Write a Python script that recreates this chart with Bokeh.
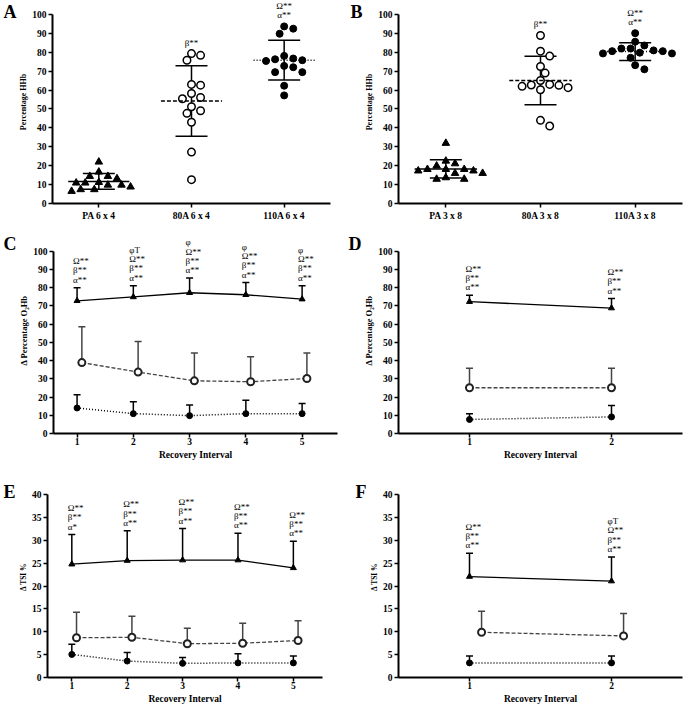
import numpy as np
from bokeh.plotting import figure
from bokeh.models import ColumnDataSource, Whisker, TeeHead, FixedTicker, LinearAxis, Range1d
from bokeh.layouts import column, row
from bokeh.embed import file_html
from bokeh.resources import INLINE
from bokeh.core.properties import value

# ---------------- data ----------------
# Panel A: percentage HHb, 6 x 4 protocol
a_groups = ["PA 6 x 4", "80A 6 x 4", "110A 6 x 4"]
a_pa = [22.0, 16.7, 14.4, 14.4, 13.2, 11.2, 10.9, 10.9, 9.8, 9.8, 8.8, 7.4, 7.4, 6.5]
a_80 = [79.3, 78.4, 75.8, 63.0, 62.6, 58.2, 56.1, 55.4, 51.2, 49.1, 47.7, 43.0, 27.2, 12.6]
a_110 = [93.7, 92.5, 89.8, 78.1, 76.7, 76.3, 75.8, 75.4, 72.8, 72.1, 69.5, 69.5, 62.3, 57.2]
a_marks = ["", "\u03b2**", "\u03a9**\n\u03b1**"]

# Panel B: percentage HHb, 3 x 8 protocol
b_groups = ["PA 3 x 8", "80A 3 x 8", "110A 3 x 8"]
b_pa = [31.9, 22.5, 21.1, 19.9, 18.1, 18.1, 18.1, 17.3, 17.3, 16.0, 16.0, 13.7, 12.9, 12.9]
b_80 = [88.9, 80.6, 78.0, 72.5, 69.0, 65.1, 63.0, 62.7, 62.5, 62.0, 61.3, 60.2, 44.0, 41.0]
b_110 = [90.1, 85.6, 83.6, 82.0, 82.0, 81.0, 80.6, 80.6, 79.8, 79.4, 79.4, 77.1, 73.2, 71.0]
b_marks = ["", "\u03b2**", "\u03a9**\n\u03b1**"]

# Panel C: delta percentage O2Hb, 6 x 4 (recovery intervals 1-5)
c_int = [1, 2, 3, 4, 5]
c_110 = [72.8, 74.9, 77.2, 76.1, 73.7]
c_110_sd = [7.2, 6.2, 8.1, 6.7, 7.4]
c_80 = [38.9, 33.7, 28.9, 28.4, 30.2]
c_80_sd = [19.7, 16.7, 15.3, 13.7, 14.0]
c_pa = [14.0, 10.9, 9.8, 10.9, 10.9]
c_pa_sd = [7.2, 6.5, 5.8, 7.3, 5.6]
c_marks = ["\u03a9**\n\u03b2**\n\u03b1**", "\u03c6T\n\u03a9**\n\u03b2**\n\u03b1**",
           "\u03c6\n\u03a9**\n\u03b2**\n\u03b1**", "\u03c6\n\u03a9**\n\u03b2**\n\u03b1**",
           "\u03c6\n\u03a9**\n\u03b2**\n\u03b1**"]

# Panel D: delta percentage O2Hb, 3 x 8 (recovery intervals 1-2)
d_int = [1, 2]
d_110 = [72.3, 68.8]
d_110_sd = [3.5, 5.2]
d_80 = [25.1, 25.1]
d_80_sd = [10.7, 10.7]
d_pa = [7.7, 9.1]
d_pa_sd = [3.2, 6.2]
d_marks = ["\u03a9**\n\u03b2**\n\u03b1**", "\u03a9**\n\u03b2**\n\u03b1**"]

# Panel E: delta TSI %, 6 x 4
e_int = [1, 2, 3, 4, 5]
e_110 = [24.8, 25.6, 25.7, 25.7, 24.0]
e_110_sd = [6.5, 6.5, 6.9, 5.9, 5.8]
e_80 = [8.7, 8.8, 7.4, 7.5, 8.1]
e_80_sd = [5.6, 4.6, 3.4, 4.4, 4.3]
e_pa = [5.05, 3.6, 3.1, 3.2, 3.2]
e_pa_sd = [2.25, 1.9, 1.3, 2.0, 1.5]
e_marks = ["\u03a9**\n\u03b2**\n\u03b1*", "\u03a9**\n\u03b2**\n\u03b1**", "\u03a9**\n\u03b2**\n\u03b1**",
           "\u03a9**\n\u03b2**\n\u03b1**", "\u03a9**\n\u03b2**\n\u03b1**"]

# Panel F: delta TSI %, 3 x 8
f_int = [1, 2]
f_110 = [22.1, 21.1]
f_110_sd = [5.1, 5.3]
f_80 = [9.9, 9.1]
f_80_sd = [4.6, 4.9]
f_pa = [3.2, 3.2]
f_pa_sd = [1.5, 1.5]
f_marks = ["\u03a9**\n\u03b2**\n\u03b1**", "\u03c6T\n\u03a9**\n\u03b2**\n\u03b1**"]

# ---------------- style ----------------
SERIF = "Liberation Serif"
W_L, W_R = 340, 344
ROW1 = (0, 203, 24)      # top border, frame height, bottom border
ROW2 = (0, 206, 43)
ROW3 = (0, 201, 43)


def make_fig(width, rowspec, mbl, mbr, xr, yr):
    mbt, fh, mbb = rowspec
    p = figure(width=width, height=mbt + fh + mbb, x_range=Range1d(*xr), y_range=Range1d(*yr),
               output_backend="svg", toolbar_location=None,
               min_border_left=mbl, min_border_right=mbr,
               min_border_top=mbt, min_border_bottom=mbb)
    p.outline_line_color = None
    p.grid.visible = False
    p.background_fill_color = "white"
    p.border_fill_color = "white"
    for ax in p.axis:
        ax.axis_line_width = 2
        ax.axis_line_color = "black"
        ax.major_tick_line_width = 1.5
        ax.major_tick_line_color = "black"
        ax.major_tick_out = 4
        ax.major_tick_in = 0
        ax.minor_tick_line_color = None
        ax.major_label_text_font = SERIF
        ax.major_label_text_font_style = "bold"
        ax.major_label_text_font_size = "9.5px"
        ax.major_label_text_color = "black"
        ax.axis_label_text_font = SERIF
        ax.axis_label_text_font_style = "bold"
        ax.axis_label_text_color = "black"
    p.yaxis.major_label_standoff = 2
    p.yaxis.axis_label_standoff = 1
    return p


def letter_axis(p, txt, t):
    # panel letter drawn as the single label of an extra, otherwise invisible left axis
    ax = LinearAxis(ticker=FixedTicker(ticks=[t]), major_label_overrides={t: txt})
    ax.axis_line_color = None
    ax.major_tick_line_color = None
    ax.minor_tick_line_color = None
    ax.major_tick_out = 0
    ax.major_tick_in = 0
    ax.major_label_standoff = 0
    ax.major_label_text_font = SERIF
    ax.major_label_text_font_style = "bold"
    ax.major_label_text_font_size = "18px"
    ax.major_label_text_color = "black"
    p.add_layout(ax, "left")


def swarm(vals, px_x, px_y, step=4.6, diam=7.8):
    vals = np.asarray(vals, dtype=float)
    order = np.argsort(-vals, kind="stable")
    placed = []
    offs = np.zeros(len(vals))
    cands = [0] + [s * j for j in range(1, 40) for s in (1, -1)]
    for i in order:
        yy = vals[i] * px_y
        for c in cands:
            xx = c * step
            if all((xx - qx) ** 2 + (yy - qy) ** 2 >= diam ** 2 for qx, qy in placed):
                placed.append((xx, yy))
                offs[i] = xx / px_x
                break
    return offs


def dot_panel(groups, series, marks, width, mbl, mbr, ylabel, tag):
    yend = 107.4
    p = make_fig(width, ROW1, mbl, mbr, (0.5, 3.5), (0, yend))
    fw = width - mbl - mbr
    fh = ROW1[1]
    pxx, pxy = fw / 3.0, fh / yend
    p.yaxis.bounds = (0, 100)
    p.yaxis.ticker = FixedTicker(ticks=list(range(0, 101, 10)))
    p.xaxis.ticker = FixedTicker(ticks=[1, 2, 3])
    p.xaxis.major_label_overrides = {i + 1: g for i, g in enumerate(groups)}
    p.xaxis.major_label_standoff = 3
    p.yaxis.axis_label = ylabel
    p.yaxis.axis_label_text_font_size = "8px"

    pos = [1, 2, 3]
    means = [float(np.mean(s)) for s in series]
    sds = [float(np.std(s, ddof=1)) for s in series]
    dashes = ["solid", "4 2", "1 2"]
    for k, s in enumerate(series):
        xs = pos[k] + swarm(s, pxx, pxy)
        src = ColumnDataSource(dict(x=xs, y=s))
        if k == 0:
            p.scatter("x", "y", source=src, marker="triangle", size=7.5,
                      fill_color="black", line_color="black")
        elif k == 1:
            p.scatter("x", "y", source=src, marker="circle", size=7.5,
                      fill_color="white", line_color="black", line_width=1.5)
        else:
            p.scatter("x", "y", source=src, marker="circle", size=7,
                      fill_color="black", line_color="black")
        p.segment(x0=[pos[k] - 0.33], x1=[pos[k] + 0.33], y0=[means[k]], y1=[means[k]],
                  line_color="black", line_width=1.5, line_dash=dashes[k])
    wsrc = ColumnDataSource(dict(base=pos, lower=[m - s for m, s in zip(means, sds)],
                                 upper=[m + s for m, s in zip(means, sds)]))
    p.add_layout(Whisker(base="base", lower="lower", upper="upper", source=wsrc,
                         line_color="black", line_width=1.5, level="underlay",
                         upper_head=TeeHead(size=32, line_width=1.5, line_color="black"),
                         lower_head=TeeHead(size=32, line_width=1.5, line_color="black")))
    tsrc = ColumnDataSource(dict(x=pos, y=[max(s) for s in series], t=marks))
    p.text(x="x", y="y", text="t", source=tsrc, text_font=value(SERIF),
           text_font_size="9px", text_align="center", text_baseline="bottom",
           y_offset=-6, text_line_height=0.92, text_color="black")
    letter_axis(p, tag, 103)
    return p


def line_panel(xs, s110, s110sd, s80, s80sd, spa, spasd, marks, width, rowspec, mbl, mbr,
               xr, yr, ybound, yticks, ylabel, ylab_size, tag, tpos, open_shift):
    p = make_fig(width, rowspec, mbl, mbr, xr, yr)
    p.yaxis.bounds = ybound
    p.yaxis.ticker = FixedTicker(ticks=yticks)
    p.xaxis.ticker = FixedTicker(ticks=list(xs))
    p.xaxis.major_label_standoff = 0
    p.xaxis.axis_label = "Recovery Interval"
    p.xaxis.axis_label_text_font_size = "9.5px"
    p.xaxis.axis_label_standoff = 2
    p.yaxis.axis_label = ylabel
    p.yaxis.axis_label_text_font_size = ylab_size

    xo = [x + open_shift for x in xs]
    specs = [
        (xs, s110, s110sd, "black", "solid", 1.3),
        (xo, s80, s80sd, "#444444", "4 2", 1.3),
        (xs, spa, spasd, "black", "1 2", 1.5),
    ]
    for xx, m, sd, col, dash, lw in specs:
        up = [a + b for a, b in zip(m, sd)]
        src = ColumnDataSource(dict(x=xx, y=m, up=up))
        p.add_layout(Whisker(base="x", lower="y", upper="up", source=src, line_color=col,
                             line_width=1.5, level="underlay", lower_head=None,
                             upper_head=TeeHead(size=7, line_width=1.5, line_color=col)))
        p.line("x", "y", source=src, line_color=col, line_width=lw, line_dash=dash)
    p.scatter(xs, s110, marker="triangle", size=6, fill_color="black", line_color="black")
    p.scatter(xo, s80, marker="circle", size=7, fill_color="white", line_color="#222222",
              line_width=2)
    p.scatter(xs, spa, marker="circle", size=6, fill_color="black", line_color="black")
    tsrc = ColumnDataSource(dict(x=xs, y=[a + b for a, b in zip(s110, s110sd)], t=marks))
    p.text(x="x", y="y", text="t", source=tsrc, text_font=value(SERIF), text_font_size="9px",
           text_align="left", text_baseline="bottom", x_offset=-4, y_offset=-3,
           text_line_height=0.92, text_color="black")
    letter_axis(p, tag, tpos)
    return p


pA = dot_panel(a_groups, [a_pa, a_80, a_110], a_marks, W_L, 48, 10, "Percentage HHb", "A")
pB = dot_panel(b_groups, [b_pa, b_80, b_110], b_marks, W_R, 58, 2, "Percentage HHb", "B")

ylab_o2 = "\u0394 Percentage O\u2082Hb"
pC = line_panel(c_int, c_110, c_110_sd, c_80, c_80_sd, c_pa, c_pa_sd, c_marks, W_L, ROW2, 48, 3,
                (0.581, 5.629), (0, 113.0), (0, 100), list(range(0, 101, 10)),
                ylab_o2, "8.5px", "C", 111, 0.085)
pD = line_panel(d_int, d_110, d_110_sd, d_80, d_80_sd, d_pa, d_pa_sd, d_marks, W_R, ROW2, 58, 2,
                (0.5, 2.5), (0, 113.0), (0, 100), list(range(0, 101, 10)),
                ylab_o2, "8.5px", "D", 111, 0.0)
pE = line_panel(e_int, e_110, e_110_sd, e_80, e_80_sd, e_pa, e_pa_sd, e_marks, W_L, ROW3, 39, 18,
                (0.561, 5.526), (0, 44.0), (0, 40), list(range(0, 41, 5)),
                "\u0394 TSI %", "7.5px", "E", 43, 0.085)
pF = line_panel(f_int, f_110, f_110_sd, f_80, f_80_sd, f_pa, f_pa_sd, f_marks, W_R, ROW3, 58, 2,
                (0.5, 2.5), (0, 44.0), (0, 40), list(range(0, 41, 5)),
                "\u0394 TSI %", "7.5px", "F", 43, 0.085)

layout = column(row(pA, pB), row(pC, pD), row(pE, pF))
open("out.html", "w").write(file_html(layout, INLINE))
